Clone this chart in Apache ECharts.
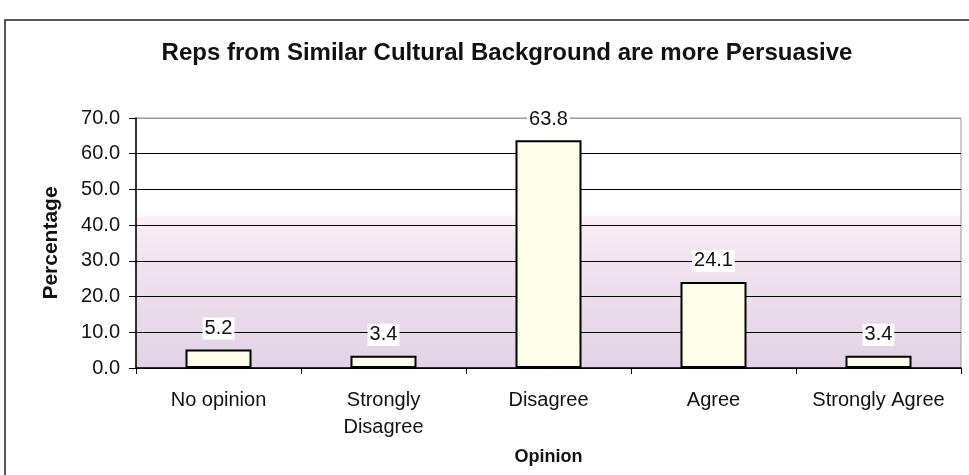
<!DOCTYPE html>
<html>
<head>
<meta charset="utf-8">
<script src="https://cdn.jsdelivr.net/npm/echarts@6/dist/echarts.min.js"></script>
<style>
  html, body { margin: 0; padding: 0; background: #fff; }
  #chart { width: 969px; height: 475px; }
</style>
</head>
<body>
<div id="chart"></div>
<script>
// categories and values
const opinions = ['No opinion', 'Strongly\nDisagree', 'Disagree', 'Agree', 'Strongly Agree']
const percentages = [5.2, 3.4, 63.8, 24.1, 3.4]

const font = 'Arial, "Liberation Sans", sans-serif'

let myChart = echarts.init(document.getElementById('chart'))
let option = {
  animation: false,
  textStyle: { fontFamily: font, color: '#111' },
  title: {
    text: 'Reps from Similar Cultural Background are more Persuasive',
    left: 502,
    textAlign: 'center',
    top: 36,
    textStyle: { fontSize: 24, fontWeight: 'bold', color: '#111', fontFamily: font },
  },
  graphic: [
    {
      type: 'rect',
      shape: { x: 5, y: 20, width: 990, height: 480 },
      style: { fill: 'none', stroke: '#222', lineWidth: 1.5 },
      silent: true,
    },
  ],
  grid: {
    left: 136,
    right: 8,
    top: 118,
    bottom: 107,
    show: true,
    borderColor: '#999',
    borderWidth: 1,
    //background gets a light purple wash from about the 40 line down
    backgroundColor: new echarts.graphic.LinearGradient(0, 0, 0, 1, [
      { offset: 0, color: '#ffffff' },
      { offset: 0.38, color: '#ffffff' },
      { offset: 0.4, color: '#f8f0f6' },
      { offset: 0.6, color: '#f0e2ef' },
      { offset: 1, color: '#e2d2e6' },
    ]),
  },
  xAxis: {
    type: 'category',
    data: opinions,
    name: 'Opinion',
    nameLocation: 'middle',
    nameGap: 80,
    nameTextStyle: { fontSize: 18, fontWeight: 'bold', color: '#111' },
    axisLine: { lineStyle: { color: '#000', width: 1.5 } },
    axisTick: { show: true, length: 6, lineStyle: { color: '#000' } },
    axisLabel: { interval: 0, hideOverlap: false, fontSize: 20, color: '#111', margin: 19, lineHeight: 27 },
  },
  yAxis: {
    type: 'value',
    min: 0,
    max: 70,
    interval: 10,
    name: 'Percentage',
    nameLocation: 'middle',
    nameGap: 74,
    nameTextStyle: { fontSize: 21, fontWeight: 'bold', color: '#111' },
    axisLine: { show: true, lineStyle: { color: '#000', width: 1.5 } },
    axisTick: { show: true, length: 7, lineStyle: { color: '#000' } },
    axisLabel: {
      fontSize: 20,
      color: '#111',
      margin: 16,
      formatter: (v) => v.toFixed(1),
    },
    splitLine: {
      lineStyle: {
        color: ['#000', '#000', '#000', '#000', '#000', '#000', '#000', '#999'],
        width: 1,
      },
    },
  },
  series: [
    {
      name: 'Percentage',
      type: 'bar',
      data: percentages,
      barWidth: '40%',
      itemStyle: {
        color: '#fdfdea',
        borderColor: '#000',
        borderWidth: 2,
      },
      label: {
        show: true,
        position: 'top',
        distance: 10,
        fontSize: 20,
        color: '#111',
        backgroundColor: '#fff',
        padding: [1, 2],
        formatter: (p) => p.value.toFixed(1),
      },
    },
  ],
}
myChart.setOption(option)
</script>
</body>
</html>
